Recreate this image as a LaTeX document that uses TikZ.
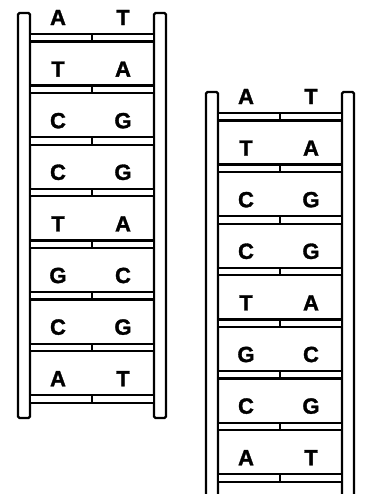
\documentclass[tikz,border=0pt]{standalone}
\usepackage{fontspec}
\setmainfont{Liberation Sans}[BoldFont={Liberation Sans Bold}, BoldFeatures={FakeBold=1.5}]
\usepackage{tikz}
\usetikzlibrary{positioning}
\tikzset{
  rail/.style={draw=black, fill=white, line width=2.4pt, rounded corners=1.5pt},
  rungbar/.style={draw=black, fill=white, line width=2.2pt},
  base/.style={font=\fontsize{22}{22}\selectfont\bfseries, inner sep=0pt},
}
\newcommand{\ladder}[4]{%
  \begin{scope}[shift={(#1,#2)}]
    \draw[rail] (0,0) rectangle (12,#4);
    \draw[rail] (136,0) rectangle (148,#4);
    \foreach \k in {0,...,7} {
      \pgfmathsetmacro{\ry}{21+51.6*\k}
      \draw[rungbar] (12,\ry) rectangle (74,\ry+7.5);
      \draw[rungbar] (74,\ry) rectangle (136,\ry+7.5);
    }
    \foreach \l/\r [count=\k from 0] in {A/T,T/A,C/G,C/G,T/A,G/C,C/G,A/T} {
      \pgfmathsetmacro{\ly}{4.5+51.6*\k}
      \node[base] (#3-\k-l) at (40,\ly) {\l};
      \node[base] (#3-\k-r) at (105,\ly) {\r};
    }
  \end{scope}%
}
\begin{document}
\begin{tikzpicture}[x=1pt, y=-1pt]
  \useasboundingbox (0,0) rectangle (365,494);
  \clip (0,0) rectangle (365,494);
  % first strand pair
  \ladder{18}{13}{left}{405}
  % second, shifted down
  \ladder{206}{92}{right}{420}
\end{tikzpicture}
\end{document}
